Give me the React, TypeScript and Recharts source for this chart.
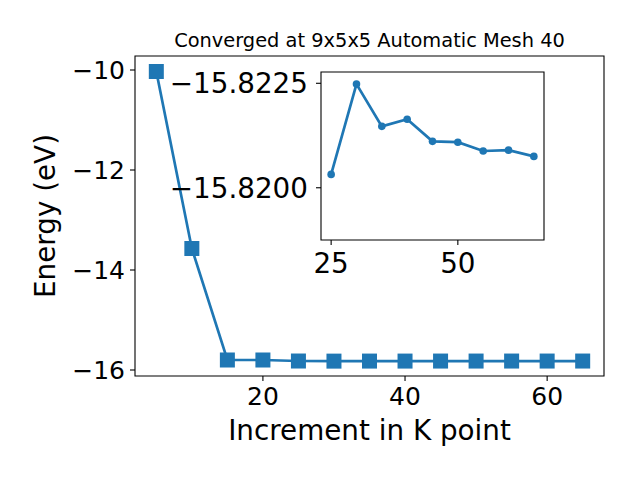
import React from "react";
import {
  LineChart,
  Line,
  XAxis,
  YAxis,
  ReferenceArea,
} from "recharts";

const kPoints = [5, 10, 15, 20, 25, 30, 35, 40, 45, 50, 55, 60, 65];
const energies = [
  -10.03, -13.57, -15.8, -15.8, -15.8203, -15.8225, -15.8215, -15.8216,
  -15.8211, -15.8211, -15.8209, -15.8209, -15.8208,
];

const insetK = [25, 30, 35, 40, 45, 50, 55, 60, 65];
const insetEnergies = [
  -15.82032, -15.82248, -15.82147, -15.82164, -15.82111, -15.82109,
  -15.82088, -15.8209, -15.82075,
];

const mainXTicks = [20, 40, 60];
const mainYTicks = [-16, -14, -12, -10];
const insetXTicks = [25, 50];
const insetYTicks = [-15.8225, -15.82];

const title = "Converged at 9x5x5 Automatic Mesh 40";
const xLabel = "Increment in K point";
const yLabel = "Energy (eV)";

const mainData = kPoints.map((k, i) => ({ k, e: energies[i] }));
const insetData = insetK.map((k, i) => ({ k, e: insetEnergies[i] }));

const BLUE = "#1f77b4";
const FONT = "DejaVu Sans";

const minus = (v: number, digits?: number) =>
  (v < 0 ? "\u2212" : "") +
  (digits !== undefined ? Math.abs(v).toFixed(digits) : String(Math.abs(v)));

const SquareDot = (props: any) => {
  const { cx, cy, index } = props;
  if (cx == null || cy == null) return null;
  return (
    <rect
      key={`sq-${index}`}
      x={cx - 7.5}
      y={cy - 7.5}
      width={15}
      height={15}
      fill={BLUE}
    />
  );
};

export default function App() {
  return (
    <div
      style={{
        position: "absolute",
        left: 0,
        top: 0,
        width: 640,
        height: 480,
        background: "#fff",
      }}
    >
      {/* main axes */}
      <div style={{ position: "absolute", left: 0, top: 0 }}>
        <LineChart
          width={640}
          height={480}
          data={mainData}
          margin={{ top: 56, right: 36, bottom: 0, left: 0 }}
        >
          <XAxis
            dataKey="k"
            type="number"
            domain={[2, 68]}
            ticks={mainXTicks}
            allowDataOverflow
            height={104}
            axisLine={false}
            tickLine={{ stroke: "#000", strokeWidth: 1.1 }}
            tickSize={5}
            tickMargin={6}
            tick={{ fill: "#000", fontSize: 25, fontFamily: FONT }}
          />
          <YAxis
            type="number"
            domain={[-16.12, -9.72]}
            ticks={mainYTicks}
            allowDataOverflow
            width={135}
            axisLine={false}
            tickLine={{ stroke: "#000", strokeWidth: 1.1 }}
            tickSize={5}
            tickMargin={5}
            tickFormatter={(v: number) => minus(v)}
            tick={{ fill: "#000", fontSize: 25, fontFamily: FONT }}
          />
          <ReferenceArea
            x1={2}
            x2={68}
            y1={-16.12}
            y2={-9.72}
            fill="none"
            stroke="#000"
            strokeWidth={1.1}
            fillOpacity={0}
            ifOverflow="visible"
          />
          <Line
            dataKey="e"
            type="linear"
            stroke={BLUE}
            strokeWidth={2.7}
            dot={SquareDot}
            activeDot={false}
            isAnimationActive={false}
          />
        </LineChart>
      </div>

      {/* inset axes */}
      <div style={{ position: "absolute", left: 0, top: 0 }}>
        <LineChart
          width={640}
          height={480}
          data={insetData}
          margin={{ top: 72, right: 96, bottom: 0, left: 0 }}
        >
          <XAxis
            dataKey="k"
            type="number"
            domain={[23, 67]}
            ticks={insetXTicks}
            allowDataOverflow
            height={240}
            axisLine={false}
            tickLine={{ stroke: "#000", strokeWidth: 1.1 }}
            tickSize={5}
            tickMargin={8}
            tick={{ fill: "#000", fontSize: 27.8, fontFamily: FONT }}
          />
          <YAxis
            type="number"
            domain={[-15.82277, -15.81875]}
            reversed
            ticks={insetYTicks}
            allowDataOverflow
            width={321}
            axisLine={false}
            tickLine={{ stroke: "#000", strokeWidth: 1.1 }}
            tickSize={5}
            tickMargin={8}
            tickFormatter={(v: number) => minus(v, 4)}
            tick={{ fill: "#000", fontSize: 27.8, fontFamily: FONT }}
          />
          <ReferenceArea
            x1={23}
            x2={67}
            y1={-15.82277}
            y2={-15.81875}
            fill="none"
            fillOpacity={0}
            stroke="#000"
            strokeWidth={1.1}
            ifOverflow="visible"
          />
          <Line
            dataKey="e"
            type="linear"
            stroke={BLUE}
            strokeWidth={2.7}
            dot={{ r: 3.8, fill: BLUE, stroke: BLUE, strokeWidth: 0 }}
            activeDot={false}
            isAnimationActive={false}
          />
        </LineChart>
      </div>

      {/* title and axis labels */}
      <svg
        width={640}
        height={480}
        style={{ position: "absolute", left: 0, top: 0, pointerEvents: "none" }}
      >
        <text
          x={369.5}
          y={47}
          textAnchor="middle"
          fontFamily={FONT}
          fontSize={19.4}
          fill="#000"
        >
          {title}
        </text>
        <text
          x={369.5}
          y={440}
          textAnchor="middle"
          fontFamily={FONT}
          fontSize={27.8}
          fill="#000"
        >
          {xLabel}
        </text>
        <text
          transform="translate(55,216) rotate(-90)"
          textAnchor="middle"
          fontFamily={FONT}
          fontSize={27.8}
          fill="#000"
        >
          {yLabel}
        </text>
      </svg>
    </div>
  );
}
